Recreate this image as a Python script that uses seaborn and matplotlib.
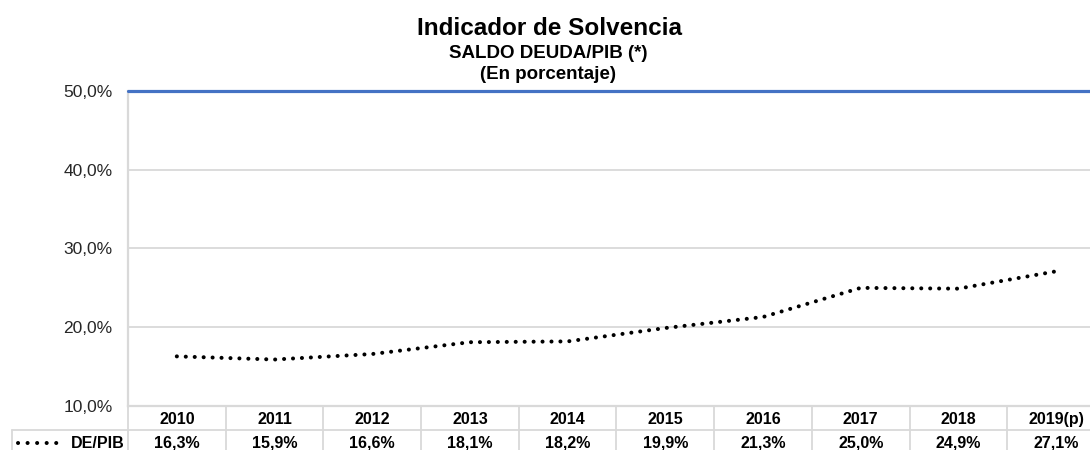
import matplotlib
matplotlib.use("Agg")
import matplotlib.pyplot as plt
import matplotlib.transforms as mtransforms
from matplotlib.ticker import FuncFormatter
import pandas as pd
import seaborn as sns

# Datos del grafico
years = ["2010", "2011", "2012", "2013", "2014", "2015", "2016", "2017", "2018", "2019(p)"]
de_pib = [16.3, 15.9, 16.6, 18.1, 18.2, 19.9, 21.3, 25.0, 24.9, 27.1]
y_ticks = [10, 20, 30, 40, 50]
series_label = "DE/PIB"

sns.set_style("white")
plt.rcParams["font.family"] = ["Liberation Sans", "DejaVu Sans"]

df = pd.DataFrame({"pos": range(len(years)), "year": years, "value": de_pib})

fig = plt.figure(figsize=(10.9, 4.5), dpi=100)
# the plot area runs a little past the right edge (cropped like the original)
ax = fig.add_axes([0.1174, 0.0978, 0.8963, 0.70])

grid_c = "#D9D9D9"
dots = (0, (0.02, 2.2))
sns.lineplot(data=df, x="pos", y="value", ax=ax, color="black", linewidth=2.9,
             linestyle=dots, dash_capstyle="round", legend=False, zorder=4)

ax.set_xlim(-0.5, len(years) - 0.5)
ax.set_ylim(10, 50)
ax.set_yticks(y_ticks)
ax.yaxis.set_major_formatter(FuncFormatter(lambda v, p: f"{v:.1f}%".replace(".", ",")))
ax.tick_params(axis="y", labelsize=12.5, labelcolor="#262626", length=0, pad=11)
ax.set_xticks([])
ax.set_xlabel("")
ax.set_ylabel("")
for t in y_ticks[1:-1]:
    ax.axhline(t, color=grid_c, linewidth=1.3, zorder=0)
ax.axhline(50, color="#4472C4", linewidth=2.3, zorder=3, clip_on=False)

for s in ["top", "right"]:
    ax.spines[s].set_visible(False)
ax.spines["left"].set_color(grid_c)
ax.spines["left"].set_linewidth(1.6)
ax.spines["bottom"].set_color(grid_c)
ax.spines["bottom"].set_linewidth(1.6)

# Tabla de datos bajo el grafico
trans = mtransforms.blended_transform_factory(ax.transData, ax.transAxes)
row1 = -0.044
row2 = -0.119
sep = -0.077
for i, (yr, v) in enumerate(zip(years, de_pib)):
    ax.text(i, row1, yr, transform=trans, ha="center", va="center",
            fontsize=11.5, fontweight="bold", color="black")
    ax.text(i, row2, f"{v:.1f}%".replace(".", ","), transform=trans, ha="center",
            va="center", fontsize=11.5, fontweight="bold", color="black")
for i in range(0, len(years) + 1):
    ax.plot([i - 0.5, i - 0.5], [0, -0.2], transform=trans, color=grid_c,
            linewidth=1.3, clip_on=False)

# separador de filas y celda de leyenda, en coordenadas de figura
inv = fig.transFigure.inverted()
_, sep_fig = inv.transform(ax.transAxes.transform((0, sep)))
_, row2_fig = inv.transform(ax.transAxes.transform((0, row2)))
fig.add_artist(plt.Line2D([0.011, 1.0], [sep_fig, sep_fig], transform=fig.transFigure,
                          color=grid_c, linewidth=1.3))
fig.add_artist(plt.Line2D([0.011, 0.011], [sep_fig, 0], transform=fig.transFigure,
                          color=grid_c, linewidth=1.3))
fig.add_artist(plt.Line2D([0.0165, 0.059], [row2_fig, row2_fig], transform=fig.transFigure,
                          color="black", linewidth=2.9, linestyle=(0, (0.02, 2.35)),
                          dash_capstyle="round"))
fig.text(0.1145, row2_fig, series_label, ha="right", va="center", fontsize=11.5,
         fontweight="bold", color="black")

# Titulos
fig.text(0.504, 0.936, "Indicador de Solvencia", ha="center", va="center",
         fontsize=17.5, fontweight="bold", color="black")
fig.text(0.503, 0.882, "SALDO DEUDA/PIB (*)", ha="center", va="center",
         fontsize=13.5, fontweight="bold", color="black")
fig.text(0.503, 0.834, "(En porcentaje)", ha="center", va="center",
         fontsize=13.5, fontweight="bold", color="black")

fig.savefig("out.png", dpi=100, facecolor="white")
